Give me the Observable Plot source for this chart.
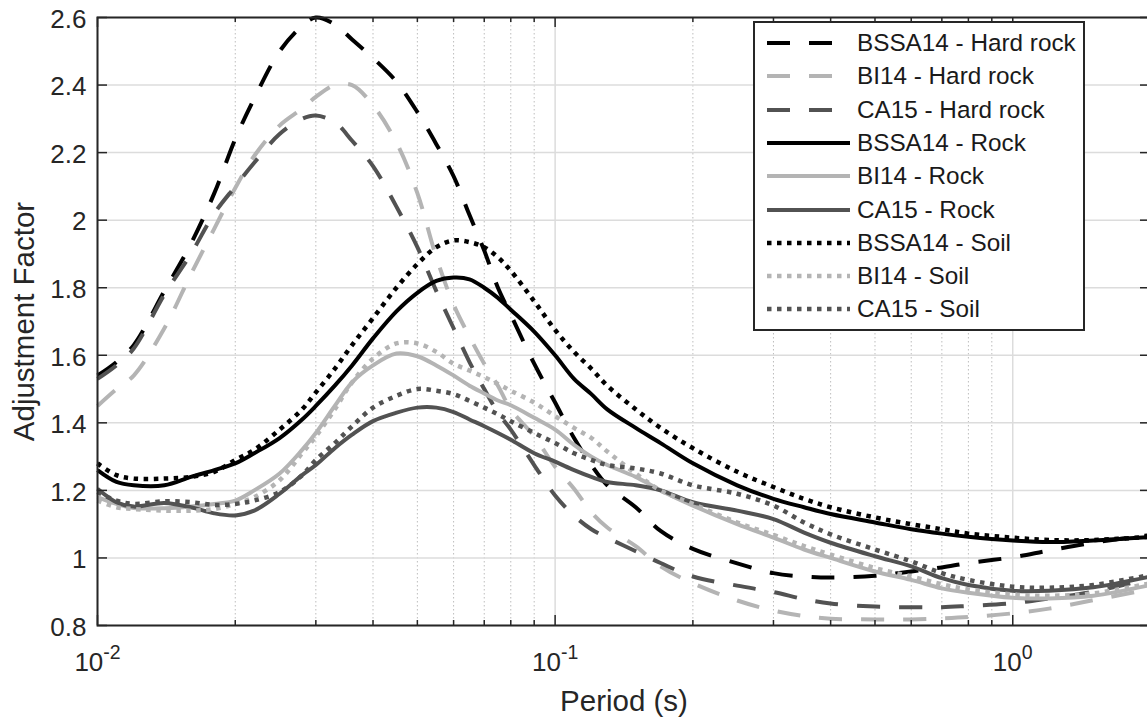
<!DOCTYPE html>
<html>
<head>
<meta charset="utf-8">
<script src="https://cdn.jsdelivr.net/npm/d3@7"></script>
<script src="https://cdn.jsdelivr.net/npm/@observablehq/plot@0.6"></script>
<style>
  body { margin: 0; background: #fff; overflow: hidden; }
  #wrap { position: relative; width: 1147px; height: 721px; overflow: hidden;
          font-family: "Liberation Sans", Arial, sans-serif; color: #262626; }
  #wrap svg { max-width: none; display: block; }
  #legend { position: absolute; left: 753px; top: 21px; width: 328px; height: 306px;
            border: 2px solid #262626; background: #fff; }
  .row { position: absolute; left: 0; height: 32px; }
  .row svg { position: absolute; left: 12px; }
  .row span { position: absolute; left: 102px; font-size: 24.3px; white-space: nowrap; line-height: 32px; top: 0; color: #1a1a1a; }
</style>
</head>
<body>
<div id="wrap"></div>
<script>
// Spectral periods (s) shared by every curve
const periods = [0.01, 0.011, 0.012, 0.014, 0.016, 0.018, 0.02, 0.022, 0.025, 0.028,
  0.03, 0.033, 0.036, 0.04, 0.045, 0.05, 0.055, 0.06, 0.065, 0.07, 0.075, 0.08, 0.09,
  0.1, 0.11, 0.12, 0.13, 0.15, 0.17, 0.2, 0.25, 0.3, 0.35, 0.4, 0.5, 0.6, 0.7, 0.8,
  1.0, 1.2, 1.5, 2.0];

// Adjustment factors per model and site class
const bssa14HardRock = [1.54, 1.58, 1.63, 1.79, 1.93, 2.08, 2.24, 2.36, 2.50, 2.575,
  2.60, 2.58, 2.535, 2.48, 2.41, 2.32, 2.225, 2.13, 2.015, 1.91, 1.80, 1.72, 1.575,
  1.46, 1.355, 1.275, 1.215, 1.15, 1.08, 1.027, 0.984, 0.955, 0.945, 0.942, 0.947, 0.96,
  0.972, 0.985, 1.002, 1.022, 1.045, 1.068];
const bi14HardRock = [1.45, 1.50, 1.54, 1.68, 1.84, 1.975, 2.095, 2.19, 2.28, 2.33,
  2.365, 2.40, 2.40, 2.34, 2.23, 2.08, 1.89, 1.75, 1.655, 1.575, 1.51, 1.44, 1.36,
  1.27, 1.205, 1.135, 1.09, 1.035, 0.975, 0.925, 0.874, 0.844, 0.828, 0.82, 0.818, 0.818,
  0.821, 0.825, 0.836, 0.85, 0.875, 0.908];
const ca15HardRock = [1.53, 1.57, 1.62, 1.78, 1.90, 2.02, 2.10, 2.17, 2.255, 2.30,
  2.31, 2.29, 2.235, 2.16, 2.04, 1.92, 1.79, 1.68, 1.58, 1.50, 1.43, 1.38, 1.275,
  1.185, 1.125, 1.085, 1.06, 1.02, 0.985, 0.945, 0.918, 0.899, 0.878, 0.865, 0.856, 0.854,
  0.854, 0.858, 0.866, 0.88, 0.90, 0.94];
const bssa14Rock = [1.26, 1.225, 1.215, 1.215, 1.24, 1.26, 1.28, 1.31, 1.355, 1.41,
  1.45, 1.51, 1.57, 1.65, 1.73, 1.785, 1.82, 1.83, 1.825, 1.80, 1.77, 1.735, 1.67,
  1.60, 1.53, 1.485, 1.44, 1.385, 1.34, 1.28, 1.215, 1.175, 1.15, 1.13, 1.105, 1.085,
  1.072, 1.063, 1.052, 1.047, 1.052, 1.062];
const bi14Rock = [1.18, 1.16, 1.148, 1.147, 1.152, 1.16, 1.17, 1.20, 1.25, 1.32,
  1.37, 1.45, 1.52, 1.57, 1.605, 1.597, 1.57, 1.54, 1.51, 1.487, 1.466, 1.452, 1.415,
  1.38, 1.335, 1.30, 1.275, 1.24, 1.20, 1.155, 1.10, 1.06, 1.025, 1.00, 0.96, 0.935,
  0.91, 0.897, 0.882, 0.88, 0.888, 0.92];
const ca15Rock = [1.205, 1.165, 1.152, 1.163, 1.15, 1.132, 1.126, 1.14, 1.19, 1.245,
  1.275, 1.325, 1.365, 1.405, 1.43, 1.445, 1.445, 1.432, 1.41, 1.39, 1.37, 1.35, 1.31,
  1.285, 1.26, 1.24, 1.225, 1.215, 1.20, 1.165, 1.14, 1.115, 1.075, 1.045, 1.005, 0.975,
  0.94, 0.92, 0.903, 0.903, 0.913, 0.945];
const bssa14Soil = [1.28, 1.245, 1.235, 1.235, 1.24, 1.255, 1.29, 1.32, 1.38, 1.44,
  1.49, 1.56, 1.63, 1.71, 1.80, 1.87, 1.92, 1.94, 1.935, 1.92, 1.89, 1.85, 1.76,
  1.675, 1.61, 1.56, 1.51, 1.44, 1.385, 1.325, 1.255, 1.21, 1.175, 1.15, 1.12, 1.10,
  1.085, 1.072, 1.06, 1.053, 1.053, 1.063];
const bi14Soil = [1.17, 1.15, 1.145, 1.14, 1.14, 1.145, 1.16, 1.18, 1.23, 1.31,
  1.36, 1.44, 1.52, 1.59, 1.635, 1.635, 1.61, 1.575, 1.555, 1.535, 1.515, 1.495, 1.46,
  1.42, 1.385, 1.355, 1.315, 1.25, 1.20, 1.16, 1.105, 1.068, 1.035, 1.01, 0.97, 0.945,
  0.922, 0.907, 0.892, 0.888, 0.895, 0.925];
const ca15Soil = [1.195, 1.17, 1.16, 1.168, 1.165, 1.157, 1.16, 1.17, 1.195, 1.245,
  1.29, 1.34, 1.39, 1.445, 1.48, 1.50, 1.495, 1.485, 1.465, 1.445, 1.425, 1.405, 1.37,
  1.34, 1.31, 1.29, 1.275, 1.265, 1.25, 1.215, 1.19, 1.155, 1.105, 1.07, 1.025, 0.99,
  0.955, 0.935, 0.915, 0.912, 0.92, 0.95];

const seriesNames = ["BSSA14 - Hard rock", "BI14 - Hard rock", "CA15 - Hard rock",
  "BSSA14 - Rock", "BI14 - Rock", "CA15 - Rock",
  "BSSA14 - Soil", "BI14 - Soil", "CA15 - Soil"];
const seriesValues = [bssa14HardRock, bi14HardRock, ca15HardRock,
  bssa14Rock, bi14Rock, ca15Rock, bssa14Soil, bi14Soil, ca15Soil];

// Axis ticks
const yTicks = [0.8, 1, 1.2, 1.4, 1.6, 1.8, 2, 2.2, 2.4, 2.6];
const decadeExponents = [-2, -1, 0];

// Styling: model -> gray level, site class -> dash pattern
const modelColor = {"BSSA14": "#000000", "BI14": "#b4b4b4", "CA15": "#525252"};
const siteDash = {"Hard rock": "23,19", "Rock": null, "Soil": "4.5,5.5"};

const rows = [];
seriesNames.forEach((name, s) => {
  periods.forEach((p, i) => rows.push({series: name, period: p, value: seriesValues[s][i]}));
});

const W = 1150, H = 721, mL = 97, mR = 0, mT = 17, mB = 96;
const plotW = W - mL - mR, plotH = H - mT - mB;
const ink = "#262626";

const majorX = decadeExponents.map(e => Math.pow(10, e));
const minorX = [];
for (const e of decadeExponents) for (let k = 2; k <= 9; k++) {
  const v = k * Math.pow(10, e);
  if (v < 2) minorX.push(+v.toPrecision(3));
}

const lineMarks = seriesNames.map(name => {
  const [model, site] = name.split(" - ");
  return Plot.line(rows.filter(r => r.series === name), {
    x: "period", y: "value", curve: "catmull-rom",
    stroke: modelColor[model], strokeWidth: site === "Soil" ? 4.5 : 4,
    strokeDasharray: siteDash[site] ?? undefined,
    strokeLinecap: "butt", strokeLinejoin: "round"
  });
});

// Decade tick labels 10^n drawn as base plus raised exponent
const baseSize = 26, supSize = 19.5;
const labelMarks = [];
for (const e of decadeExponents) {
  const sup = e < 0 ? "-" + Math.abs(e) : String(e);
  const wBase = 1.112 * baseSize;
  const wSup = (e < 0 ? 0.889 : 0.556) * supSize;
  const left = -(wBase + wSup) / 2;
  labelMarks.push(
    Plot.text([Math.pow(10, e)], {x: d => d, text: () => "10", frameAnchor: "bottom",
      textAnchor: "start", lineAnchor: "middle", dx: left, dy: 37, fontSize: baseSize, fill: ink}),
    Plot.text([Math.pow(10, e)], {x: d => d, text: () => sup, frameAnchor: "bottom",
      textAnchor: "start", lineAnchor: "middle", dx: left + wBase, dy: 27, fontSize: supSize, fill: ink})
  );
}

const chart = Plot.plot({
  width: W, height: H,
  marginLeft: mL, marginRight: mR, marginTop: mT, marginBottom: mB,
  style: {fontFamily: '"Liberation Sans", Arial, sans-serif', background: "#fff", color: ink, fontSize: "26px"},
  x: {type: "log", domain: [0.01, 2], axis: null},
  y: {domain: [0.8, 2.6], axis: null},
  marks: [
    // grid
    Plot.ruleX(minorX, {x: d => d, stroke: "#bdbdbd", strokeWidth: 1, strokeDasharray: "1.5,2.5"}),
    Plot.ruleX(majorX, {x: d => d, stroke: "#dcdcdc", strokeWidth: 1.5}),
    Plot.ruleY(yTicks, {y: d => d, stroke: "#dcdcdc", strokeWidth: 1.5}),
    // curves
    ...lineMarks,
    // box and inward ticks
    Plot.frame({stroke: ink, strokeWidth: 2}),
    Plot.tickY(yTicks, {y: d => d, stroke: ink, strokeWidth: 1.5, insetRight: plotW - 10}),
    Plot.tickY(yTicks, {y: d => d, stroke: ink, strokeWidth: 1.5, insetLeft: plotW - 10}),
    Plot.tickX(majorX, {x: d => d, stroke: ink, strokeWidth: 1.5, insetTop: plotH - 10}),
    Plot.tickX(majorX, {x: d => d, stroke: ink, strokeWidth: 1.5, insetBottom: plotH - 10}),
    Plot.tickX(minorX, {x: d => d, stroke: ink, strokeWidth: 1.5, insetTop: plotH - 5}),
    Plot.tickX(minorX, {x: d => d, stroke: ink, strokeWidth: 1.5, insetBottom: plotH - 5}),
    // tick labels
    Plot.text(yTicks, {y: d => d, text: d => String(+d.toFixed(1)), frameAnchor: "left",
      textAnchor: "end", dx: -11, dy: 2, fontSize: baseSize, fill: ink}),
    ...labelMarks,
    // axis titles
    Plot.text(["Period (s)"], {frameAnchor: "bottom", textAnchor: "middle", lineAnchor: "middle",
      dy: 76, fontSize: 29.5, fill: ink}),
    Plot.text(["Adjustment Factor"], {frameAnchor: "left", textAnchor: "middle", lineAnchor: "middle",
      rotate: -90, dx: -73, fontSize: 29.5, fill: ink})
  ]
});

const wrap = document.getElementById("wrap");
wrap.appendChild(chart);

// Legend box
const legend = d3.select(wrap).append("div").attr("id", "legend");
seriesNames.forEach((name, i) => {
  const [model, site] = name.split(" - ");
  const row = legend.append("div").attr("class", "row")
    .style("top", (20 + 33.3 * i - 16) + "px").style("width", "328px");
  const svg = row.append("svg").attr("width", 83).attr("height", 32).style("top", "0px");
  svg.append("line").attr("x1", 0).attr("x2", 83).attr("y1", 16).attr("y2", 16)
    .attr("stroke", modelColor[model]).attr("stroke-width", site === "Soil" ? 4.5 : 4)
    .attr("stroke-dasharray", siteDash[site] || null);
  row.append("span").text(name);
});
</script>
</body>
</html>
